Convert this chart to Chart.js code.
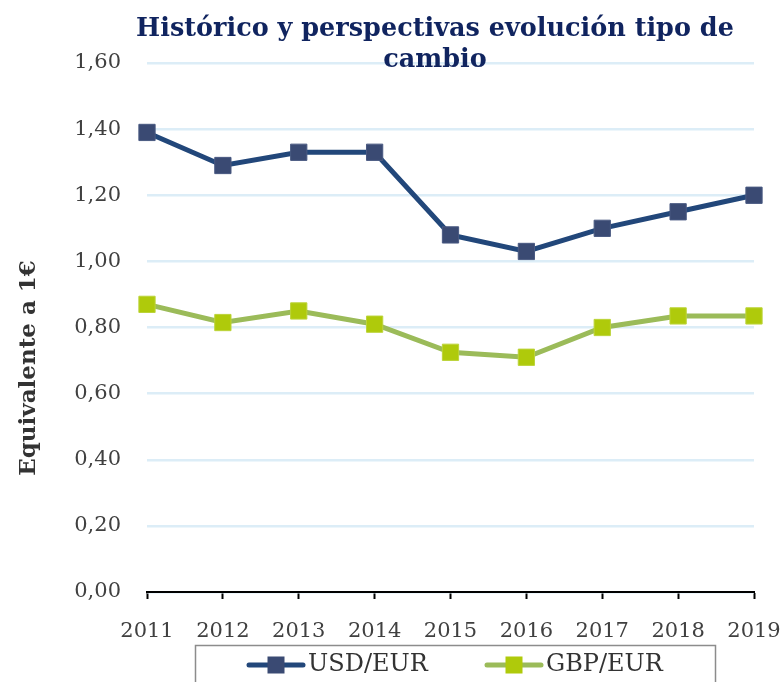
<!DOCTYPE html>
<html>
<head>
<meta charset="utf-8">
<script src="https://cdn.jsdelivr.net/npm/chart.js@4.4.0/dist/chart.umd.min.js"></script>
<style>
  body { margin: 0; background: #fff; }
</style>
</head>
<body>
<canvas id="fxChart" width="784" height="682"></canvas>
<script>
const years = ['2011', '2012', '2013', '2014', '2015', '2016', '2017', '2018', '2019'];
const usdEur = [1.39, 1.29, 1.33, 1.33, 1.08, 1.03, 1.10, 1.15, 1.20];
const gbpEur = [0.87, 0.815, 0.85, 0.81, 0.725, 0.71, 0.80, 0.835, 0.835];
const yTickLabels = ['0,00', '0,20', '0,40', '0,60', '0,80', '1,00', '1,20', '1,40', '1,60'];
const titleLines = ['Histórico y perspectivas evolución tipo de', 'cambio'];
const yTitle = 'Equivalente a 1€';

const serif = '"DejaVu Serif", serif';

// title, rotated axis title and the boxed legend
const decor = {
  id: 'decor',
  afterDraw(chart) {
    const ctx = chart.ctx;
    ctx.save();
    ctx.fillStyle = '#10245f';
    ctx.font = 'bold 25.5px ' + serif;
    ctx.textAlign = 'center';
    ctx.textBaseline = 'alphabetic';
    titleLines.forEach((t, i) => ctx.fillText(t, 435, 36 + i * 31));
    ctx.restore();

    ctx.save();
    ctx.translate(29, 368);
    ctx.rotate(-Math.PI / 2);
    ctx.fillStyle = '#333333';
    ctx.font = 'bold 23px ' + serif;
    ctx.textAlign = 'center';
    ctx.textBaseline = 'middle';
    ctx.fillText(yTitle, 0, 0);
    ctx.restore();

    ctx.save();
    ctx.strokeStyle = '#8c8c8c';
    ctx.lineWidth = 1.5;
    ctx.strokeRect(195.5, 645.5, 520, 60);
    ctx.font = '24px ' + serif;
    ctx.textBaseline = 'middle';
    ctx.textAlign = 'left';
    let x = 249;
    const y = 665;
    chart.data.datasets.forEach(ds => {
      ctx.strokeStyle = ds.borderColor;
      ctx.lineWidth = 5;
      ctx.lineCap = 'round';
      ctx.beginPath();
      ctx.moveTo(x, y);
      ctx.lineTo(x + 54, y);
      ctx.stroke();
      ctx.fillStyle = ds.pointBackgroundColor;
      ctx.fillRect(x + 27 - 8.5, y - 8.5, 17, 17);
      ctx.fillStyle = '#333333';
      ctx.fillText(ds.label, x + 59, y);
      x = 487;
    });
    ctx.restore();
  }
};

const ctx = document.getElementById('fxChart').getContext('2d');
new Chart(ctx, {
  type: 'line',
  data: {
    labels: years,
    datasets: [{
      label: 'USD/EUR',
      data: usdEur,
      borderColor: '#22477a',
      borderWidth: 5,
      pointStyle: 'rect',
      pointRadius: 11.5,
      pointBackgroundColor: '#3a4a73',
      pointBorderColor: '#4a5a82',
      pointBorderWidth: 1,
      tension: 0
    }, {
      label: 'GBP/EUR',
      data: gbpEur,
      borderColor: '#9bbb59',
      borderWidth: 5,
      pointStyle: 'rect',
      pointRadius: 11.5,
      pointBackgroundColor: '#afca0b',
      pointBorderColor: '#bcd43a',
      pointBorderWidth: 1,
      tension: 0
    }]
  },
  options: {
    responsive: false,
    animation: false,
    layout: { padding: { top: 63, right: 30, left: 0, bottom: 0 } },
    plugins: {
      legend: { display: false },
      tooltip: { enabled: false }
    },
    scales: {
      x: {
        offset: false,
        afterFit(scale) {
          scale.height = 90;
          scale.paddingLeft = 0;
          scale.paddingRight = 28;
        },
        grid: {
          drawOnChartArea: false,
          drawTicks: true,
          tickLength: 7,
          tickWidth: 2,
          tickColor: '#000'
        },
        border: { display: true, color: '#000', width: 2 },
        ticks: {
          color: '#404040',
          font: { family: serif, size: 21 },
          padding: 20,
          maxRotation: 0
        }
      },
      y: {
        min: 0,
        max: 1.6,
        afterFit(scale) { scale.width = 147; },
        grid: {
          color: '#dcedf7',
          lineWidth: 2.5,
          drawTicks: false
        },
        border: { display: false },
        ticks: {
          stepSize: 0.2,
          color: '#404040',
          font: { family: serif, size: 21 },
          padding: 26,
          callback: (v, i) => yTickLabels[i]
        }
      }
    }
  },
  plugins: [decor]
});
</script>
</body>
</html>
